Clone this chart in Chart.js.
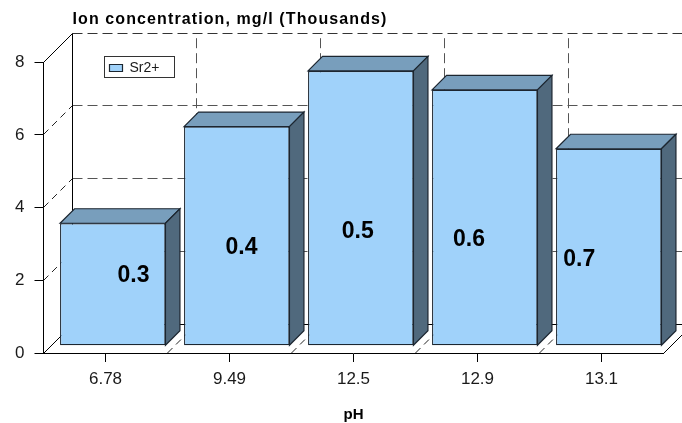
<!DOCTYPE html>
<html>
<head>
<meta charset="utf-8">
<title>Ion concentration</title>
<script src="https://cdn.jsdelivr.net/npm/chart.js@4"></script>
<style>
  html, body { margin: 0; padding: 0; background: #fff; }
  canvas { display: block; }
</style>
</head>
<body>
<canvas id="ionChart" width="682" height="423"></canvas>
<script>
const categories = ['6.78', '9.49', '12.5', '12.9', '13.1'];
const srValues = [3.37, 6.03, 7.56, 7.04, 5.42];
const yTicks = [0, 2, 4, 6, 8];
const barLabels = ['0.3', '0.4', '0.5', '0.6', '0.7'];
// where the big labels sit, in axis units (category offset, value)
const labelOffsets = [0.226, 0.097, 0.034, -0.069, -0.18];
const labelHeights = [2.13, 2.90, 3.35, 3.13, 2.56];

const DEPTH = 29;
const BAR_SHIFT = 7.25;
const BAR_DEPTH = 14.5;

const FRONT = '#A0D2FA';
const TOP = '#789EBC';
const SIDE = '#50697D';
const EDGE = '#1c2630';

Chart.defaults.font.family = '"Liberation Sans", Arial, sans-serif';
Chart.defaults.color = '#1a1a1a';

function line(ctx, x1, y1, x2, y2, color, dash) {
    ctx.strokeStyle = color;
    ctx.setLineDash(dash || []);
    ctx.beginPath();
    ctx.moveTo(x1, y1);
    ctx.lineTo(x2, y2);
    ctx.stroke();
}

// Back wall, floor and left wall of the 3D box
function drawBox(chart) {
    const { ctx, chartArea, scales } = chart;
    const { left, right, top, bottom } = chartArea;
    const dash = [10, 5];
    const diag = [7, 5];
    ctx.lineWidth = 1;

    yTicks.forEach(v => {
        const y = Math.floor(scales.y.getPixelForValue(v)) + 0.5;
        if (v > 0 && v < 8) {
            line(ctx, left + DEPTH, y - DEPTH, right + DEPTH, y - DEPTH, '#555', dash);
            line(ctx, left, y, left + DEPTH, y - DEPTH, '#222', diag);
        }
    });
    categories.slice(1).forEach((c, i) => {
        const x = Math.floor(scales.x.getPixelForValue(i + 0.5)) + 0.5;
        line(ctx, x + DEPTH, top - DEPTH + 5, x + DEPTH, bottom - DEPTH, '#555', dash);
        line(ctx, x, bottom, x + DEPTH, bottom - DEPTH, '#222', diag);
    });

    const t = Math.floor(top) + 0.5, b = Math.floor(bottom) + 0.5, l = Math.floor(left) + 0.5;
    line(ctx, l + DEPTH, t - DEPTH, right + DEPTH, t - DEPTH, '#333', dash);
    line(ctx, l + DEPTH, t - DEPTH, l + DEPTH, b - DEPTH, '#000');
    line(ctx, l + DEPTH, b - DEPTH, right + DEPTH, b - DEPTH, '#000');
    line(ctx, l, t, l + DEPTH, t - DEPTH, '#000');
    line(ctx, l, b, l + DEPTH, b - DEPTH, '#000');
    line(ctx, right, b, right + DEPTH, b - DEPTH, '#000');
    ctx.setLineDash([]);
}

// Top and side faces behind the front rectangle Chart.js draws
function drawBarFaces(chart) {
    const { ctx } = chart;
    ctx.lineWidth = 1.2;
    ctx.strokeStyle = EDGE;
    chart.getDatasetMeta(0).data.forEach(bar => {
        const l = bar.x - bar.width / 2, r = bar.x + bar.width / 2;
        const d = BAR_DEPTH;
        ctx.fillStyle = TOP;
        ctx.beginPath();
        ctx.moveTo(l, bar.y);
        ctx.lineTo(l + d, bar.y - d);
        ctx.lineTo(r + d, bar.y - d);
        ctx.lineTo(r, bar.y);
        ctx.closePath();
        ctx.fill();
        ctx.stroke();
        ctx.fillStyle = SIDE;
        ctx.beginPath();
        ctx.moveTo(r, bar.y);
        ctx.lineTo(r + d, bar.y - d);
        ctx.lineTo(r + d, bar.base - d);
        ctx.lineTo(r, bar.base);
        ctx.closePath();
        ctx.fill();
        ctx.stroke();
    });
}

const box3d = {
    id: 'box3d',
    afterLayout(chart) {
        // title lines up with the back wall, legend floats on the chart
        const title = chart.titleBlock;
        if (!title.spaced) {
            const drawTitle = title.draw;
            title.draw = function () {
                chart.ctx.save();
                chart.ctx.letterSpacing = '1.1px';
                drawTitle.call(title);
                chart.ctx.restore();
            };
            title.spaced = true;
        }
        title.left = chart.chartArea.left + DEPTH;
        const legend = chart.legend;
        legend.left = 104.5;
        legend.right = 175;
        legend.top = 56;
        legend.bottom = 78;
    },
    beforeDatasetsDraw(chart) {
        const { ctx } = chart;
        drawBox(chart);
        ctx.save();
        ctx.translate(BAR_SHIFT, -BAR_SHIFT);
        drawBarFaces(chart);
    },
    afterDatasetsDraw(chart) {
        const { ctx, scales } = chart;
        ctx.restore();

        // big labels on the bars
        ctx.save();
        ctx.fillStyle = '#000';
        ctx.font = 'bold 23px "Liberation Sans", Arial, sans-serif';
        ctx.textAlign = 'center';
        ctx.textBaseline = 'middle';
        barLabels.forEach((text, i) => {
            ctx.fillText(text,
                scales.x.getPixelForValue(i + labelOffsets[i]),
                scales.y.getPixelForValue(labelHeights[i]));
        });
        ctx.restore();

        // legend frame
        ctx.save();
        ctx.strokeStyle = '#333';
        ctx.lineWidth = 1;
        ctx.strokeRect(104.5, 56.5, 70, 21);
        ctx.restore();
    }
};

new Chart(document.getElementById('ionChart'), {
    type: 'bar',
    data: {
        labels: categories,
        datasets: [{
            label: 'Sr2+',
            data: srValues,
            backgroundColor: FRONT,
            borderColor: EDGE,
            borderWidth: 1.2,
            borderSkipped: false,
            categoryPercentage: 1,
            barPercentage: 0.85,
            clip: false
        }]
    },
    plugins: [box3d],
    options: {
        responsive: false,
        animation: false,
        layout: { padding: { right: 18.5 } },
        plugins: {
            tooltip: { enabled: false },
            title: {
                display: true,
                text: 'Ion concentration, mg/l (Thousands)',
                align: 'start',
                color: '#000',
                font: { size: 16, weight: 'bold' },
                padding: { top: 9.5, bottom: 4.5 }
            },
            legend: {
                display: true,
                position: 'top',
                align: 'start',
                labels: {
                    boxWidth: 13,
                    boxHeight: 7,
                    padding: 5,
                    color: '#1a1a1a',
                    font: { size: 14 }
                }
            }
        },
        scales: {
            x: {
                offset: true,
                afterFit(scale) { scale.height = 70; },
                grid: {
                    offset: false,
                    drawOnChartArea: false,
                    tickLength: 9,
                    color: '#000'
                },
                border: { display: true, color: '#000' },
                ticks: { padding: 7, font: { size: 17 } },
                title: {
                    display: true,
                    text: 'pH',
                    color: '#000',
                    font: { size: 15, weight: 'bold' },
                    padding: { bottom: -1 }
                }
            },
            y: {
                min: 0,
                max: 8,
                afterFit(scale) { scale.width = 43.5; },
                afterBuildTicks(scale) { scale.ticks = yTicks.map(v => ({ value: v })); },
                grid: {
                    drawOnChartArea: false,
                    tickLength: 9,
                    color: '#000'
                },
                border: { display: true, color: '#000' },
                ticks: { padding: 10, font: { size: 17 } }
            }
        }
    }
});
</script>
</body>
</html>
